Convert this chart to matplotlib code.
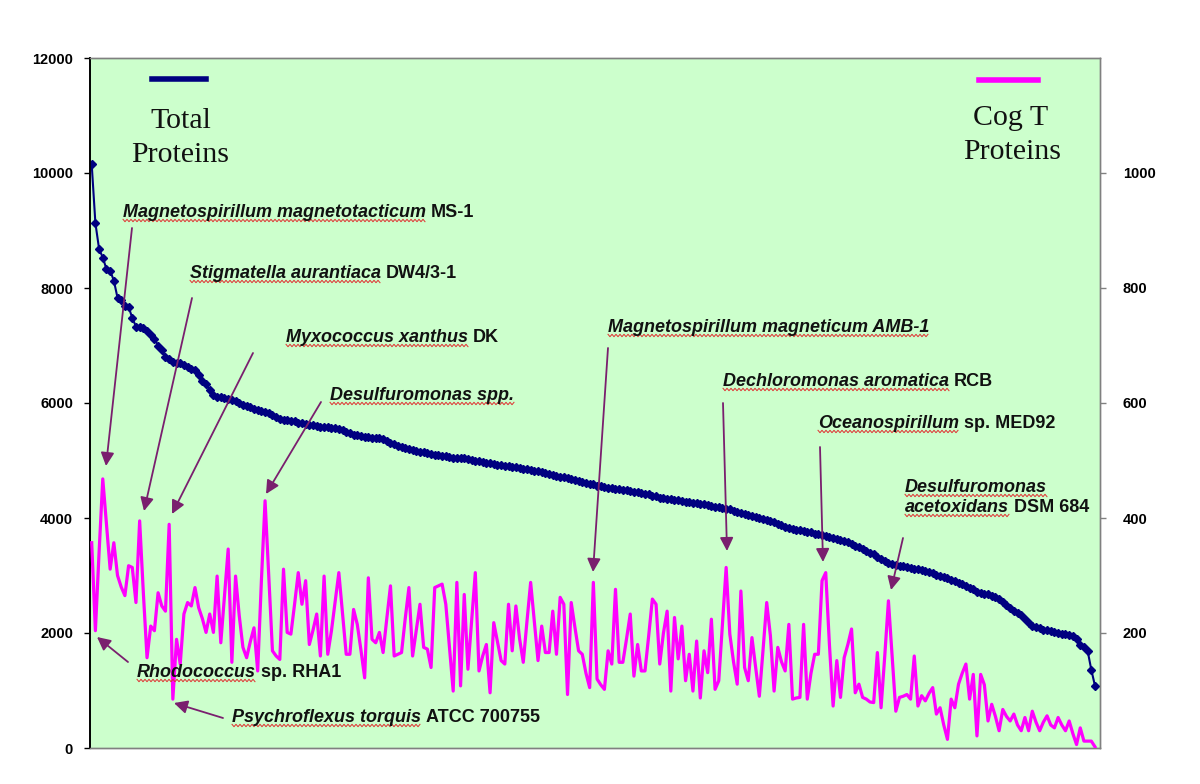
import matplotlib
matplotlib.use('Agg')
import matplotlib.pyplot as plt
from matplotlib.lines import Line2D

# ---------------- data ----------------
total_proteins = [
    10150, 9130, 8680, 8530, 8330, 8300, 8130, 7830, 7800, 7690,
    7670, 7480, 7330, 7320, 7310, 7250, 7180, 7120, 7000, 6920,
    6800, 6760, 6720, 6700, 6690, 6660, 6620, 6590, 6570, 6480,
    6380, 6330, 6220, 6140, 6110, 6100, 6080, 6070, 6060, 6040,
    6000, 5970, 5950, 5930, 5900, 5880, 5860, 5840, 5820, 5800,
    5760, 5730, 5710, 5700, 5690, 5680, 5660, 5650, 5640, 5625,
    5615, 5600, 5590, 5580, 5575, 5570, 5565, 5555, 5530, 5500,
    5470, 5450, 5435, 5420, 5410, 5405, 5400, 5395, 5390, 5370,
    5340, 5310, 5280, 5260, 5240, 5220, 5195, 5175, 5160, 5150,
    5140, 5130, 5115, 5100, 5090, 5080, 5070, 5060, 5050, 5045,
    5040, 5035, 5030, 5010, 4995, 4985, 4970, 4960, 4950, 4940,
    4930, 4920, 4910, 4900, 4890, 4880, 4870, 4860, 4850, 4840,
    4825, 4810, 4795, 4780, 4765, 4750, 4735, 4720, 4705, 4690,
    4675, 4660, 4645, 4630, 4615, 4600, 4585, 4565, 4555, 4545,
    4530, 4520, 4510, 4500, 4490, 4480, 4470, 4460, 4450, 4440,
    4425, 4410, 4390, 4375, 4355, 4345, 4335, 4325, 4315, 4305,
    4295, 4285, 4275, 4265, 4255, 4245, 4235, 4225, 4210, 4195,
    4185, 4175, 4165, 4150, 4130, 4110, 4090, 4070, 4050, 4030,
    4015, 4005, 3990, 3970, 3950, 3930, 3900, 3870, 3850, 3830,
    3815, 3800, 3790, 3780, 3765, 3750, 3730, 3715, 3700, 3690,
    3675, 3660, 3640, 3620, 3600, 3575, 3550, 3520, 3490, 3460,
    3430, 3400, 3370, 3330, 3290, 3250, 3220, 3200, 3185, 3170,
    3160, 3150, 3135, 3120, 3105, 3090, 3075, 3060, 3035, 3010,
    2990, 2970, 2950, 2930, 2900, 2870, 2845, 2820, 2790, 2760,
    2720, 2690, 2680, 2670, 2650, 2620, 2600, 2540, 2480, 2430,
    2390, 2350, 2310, 2250, 2180, 2130, 2100, 2080, 2060, 2045,
    2035, 2020, 2005, 1990, 1975, 1960, 1950, 1900, 1790, 1760,
    1690, 1360, 1080,
]

cog_t_proteins = [
    357, 204, 340, 468, 390, 311, 357, 300, 280, 265,
    317, 314, 253, 395, 270, 157, 212, 204, 270, 247,
    238, 389, 85, 189, 146, 233, 253, 247, 279, 244,
    225, 201, 233, 201, 299, 183, 265, 346, 149, 299,
    230, 175, 157, 185, 209, 134, 290, 430, 300, 169,
    160, 154, 311, 201, 198, 250, 305, 250, 291, 180,
    205, 233, 160, 299, 163, 204, 255, 305, 235, 163,
    163, 241, 215, 170, 122, 296, 189, 183, 201, 166,
    225, 282, 160, 163, 166, 225, 279, 160, 205, 250,
    175, 172, 140, 279, 282, 285, 250, 175, 99, 288,
    108, 267, 137, 220, 305, 134, 160, 180, 96, 218,
    185, 152, 146, 250, 169, 247, 190, 149, 220, 288,
    220, 152, 212, 166, 166, 238, 163, 262, 250, 93,
    253, 210, 169, 163, 130, 105, 288, 120, 110, 102,
    169, 146, 276, 149, 149, 190, 233, 125, 180, 134,
    134, 195, 259, 250, 146, 200, 238, 99, 227, 155,
    212, 117, 163, 99, 186, 87, 169, 131, 224, 102,
    117, 215, 314, 198, 150, 111, 273, 140, 117, 192,
    140, 90, 170, 253, 195, 99, 175, 150, 134, 215,
    85, 87, 88, 215, 85, 130, 163, 163, 291, 305,
    180, 73, 152, 88, 157, 180, 207, 96, 111, 88,
    85, 80, 79, 166, 70, 160, 256, 160, 64, 88,
    90, 93, 85, 160, 73, 91, 82, 95, 105, 59,
    70, 40, 15, 85, 70, 111, 130, 146, 85, 128,
    21, 128, 110, 47, 76, 55, 30, 67, 55, 47,
    59, 40, 30, 53, 30, 64, 45, 30, 45, 56,
    40, 35, 53, 40, 30, 47, 25, 6, 35, 12,
    12, 12, 2,
]

left_ticks = [0, 2000, 4000, 6000, 8000, 10000, 12000]
right_ticks = [200, 400, 600, 800, 1000]

legend_left = ["Total", "Proteins"]
legend_right = ["Cog T", "Proteins"]

# (italic part, plain part)
organisms = [
    ("Magnetospirillum magnetotacticum", "MS-1"),
    ("Stigmatella aurantiaca", "DW4/3-1"),
    ("Myxococcus xanthus", "DK"),
    ("Desulfuromonas spp.", ""),
    ("Magnetospirillum magneticum AMB-1", ""),
    ("Dechloromonas aromatica", "RCB"),
    ("Oceanospirillum", "sp. MED92"),
    ("Desulfuromonas", ""),
    ("acetoxidans", "DSM 684"),
    ("Rhodococcus", "sp. RHA1"),
    ("Psychroflexus torquis", "ATCC 700755"),
]

# ---------------- layout (pixels) ----------------
W, H = 1200, 784
L, R, T, B = 90, 1100, 58, 748

label_pos = [(123, 217), (190, 278), (286, 342), (330, 400), (608, 332),
             (723, 386), (818, 428), (905, 492), (905, 512), (137, 677),
             (232, 722)]
# arrow tail -> head
arrows = [((132, 228), (106, 466)), ((192, 298), (144, 511)),
          ((253, 353), (172, 514)), ((321, 402), (266, 494)),
          ((608, 348), (593, 572)), ((723, 403), (727, 551)),
          ((820, 447), (823, 562)), ((903, 538), (891, 590)),
          ((128, 662), (97, 637)), ((223, 718), (174, 703))]

NAVY = '#000080'
MAG = '#FF00FF'
ARROW = '#7A1F6E'
BG = '#CCFFCC'

plt.rcParams['font.family'] = ['Liberation Sans', 'DejaVu Sans']

fig = plt.figure(figsize=(W / 100, H / 100), dpi=100)
fig.patch.set_facecolor('white')


def ff(px, py):
    return (px / W, 1 - py / H)


ax = fig.add_axes([L / W, (H - B) / H, (R - L) / W, (B - T) / H])
ax.set_facecolor(BG)
n = len(total_proteins)
xs = list(range(n))
ax.plot(xs, total_proteins, color=NAVY, lw=1.5, marker='D', ms=4.2,
        mec=NAVY, mfc=NAVY, zorder=3)
ax.set_ylim(0, 12000)
spacing = (1095 - 91.7) / (n - 1)
ax.set_xlim(-(91.7 - L) / spacing, (n - 1) + (R - 1095) / spacing)
ax.set_xticks([])
ax.set_yticks(left_ticks, labels=[str(v) for v in left_ticks],
              fontweight='bold', fontsize=10.5)
ax.tick_params(axis='y', direction='out', length=4, width=1, pad=8.2,
               colors='black')

ax2 = ax.twinx()
ax2.plot(list(range(len(cog_t_proteins))), cog_t_proteins, color=MAG,
         lw=2.3, zorder=3)
ax2.set_ylim(0, 1200)
ax2.set_yticks(right_ticks, labels=[str(v) for v in right_ticks],
               fontweight='bold', fontsize=10.5)
ax2.tick_params(axis='y', direction='out', length=4, width=1, pad=12.5,
                colors='black')
ax2.tick_params(axis='y', color='#808080')

for a in (ax, ax2):
    for s in ('top', 'bottom', 'right'):
        a.spines[s].set_color('#808080')
        a.spines[s].set_linewidth(1.0)
    a.spines['left'].set_color('black')
    a.spines['left'].set_linewidth(1.2)

# legend-like captions
fig.add_artist(Line2D([152 / W, 206 / W], [1 - 79 / H] * 2, color=NAVY,
                      lw=4, transform=fig.transFigure))
fig.add_artist(Line2D([979 / W, 1038 / W], [1 - 80 / H] * 2, color=MAG,
                      lw=4, transform=fig.transFigure))
serif = ['Liberation Serif', 'DejaVu Serif']
for txt, (px, py) in zip(legend_left, [(181, 128), (180, 162)]):
    fig.text(*ff(px, py), txt, ha='center', va='baseline', fontsize=21.5,
             family=serif, color='#111111')
for txt, (px, py) in zip(legend_right, [(1011, 125), (1012, 159)]):
    fig.text(*ff(px, py), txt, ha='center', va='baseline', fontsize=21.5,
             family=serif, color='#111111')


def wavy(x0, x1, y, color):
    px = []
    py = []
    k = 0
    x = x0
    while x <= x1:
        px.append(x / W)
        py.append(1 - (y + (1.2 if k % 2 else -1.2)) / H)
        x += 2
        k += 1
    fig.add_artist(Line2D(px, py, color=color, lw=0.7,
                          transform=fig.transFigure, zorder=5))


# organism labels
fig.canvas.draw()
renderer = fig.canvas.get_renderer()
for (ital, plain), (px, py) in zip(organisms, label_pos):
    t1 = fig.text(*ff(px, py), ital, ha='left', va='baseline', fontsize=13,
                  fontweight='bold', fontstyle='italic', color='#111111',
                  zorder=6)
    bb = t1.get_window_extent(renderer=renderer)
    wpx = bb.width
    wavy(px, px + wpx, py + 3.5, '#E03030')
    if plain:
        fig.text(*ff(px + wpx + 5, py), plain, ha='left', va='baseline',
                 fontsize=13, fontweight='bold', color='#111111', zorder=6)

for (tail, head) in arrows:
    fig.add_artist(matplotlib.patches.FancyArrowPatch(
        ff(*tail), ff(*head), transform=fig.transFigure,
        arrowstyle='-|>', mutation_scale=20, lw=1.3, color=ARROW,
        shrinkA=0, shrinkB=0, zorder=7))

fig.savefig('out.png', dpi=100, facecolor='white')
